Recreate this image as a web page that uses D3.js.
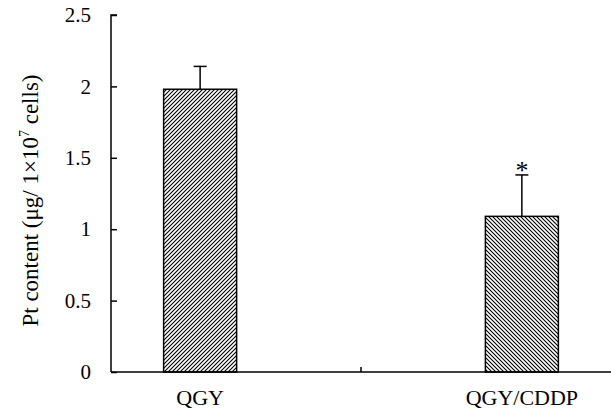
<!DOCTYPE html>
<html>
<head>
<meta charset="utf-8">
<script src="https://cdn.jsdelivr.net/npm/d3@7"></script>
<style>
  body { margin: 0; background: #fff; }
  svg { display: block; }
  text { font-family: "Liberation Serif", "Times New Roman", serif; fill: #000; }
</style>
</head>
<body>
<svg id="chart" width="611" height="414"></svg>
<script>
// datos
const categories = ["QGY", "QGY/CDDP"];
const values = [1.98, 1.09];
const errors = [0.16, 0.29];
const significant = [false, true];
const yTicks = [0, 0.5, 1, 1.5, 2, 2.5];
const hatchDir = ["up", "down"];

const svg = d3.select("#chart");
const mLeft = 111, mRight = 611, mTop = 15, mBottom = 372;

const x = d3.scalePoint().domain(categories).range([mLeft, mRight]).padding(0.277);
const y = d3.scaleLinear().domain([0, 2.5]).range([mBottom, mTop]);
const barWidth = 73;

// patrones de rayado
const defs = svg.append("defs");
const mk = (id, d) => defs.append("pattern")
    .attr("id", id).attr("patternUnits", "userSpaceOnUse")
    .attr("width", 4).attr("height", 4)
  .append("path").attr("d", d)
    .attr("stroke", "#000").attr("stroke-width", 1.1);
mk("hatch-up", "M-1,1 L1,-1 M0,4 L4,0 M3,5 L5,3");
mk("hatch-down", "M-1,3 L1,5 M0,0 L4,4 M3,-1 L5,1");

// barras
svg.selectAll(".bar").data(categories).join("rect")
  .attr("class", "bar")
  .attr("x", d => x(d) - barWidth / 2)
  .attr("y", (d, i) => y(values[i]))
  .attr("width", barWidth)
  .attr("height", (d, i) => y(0) - y(values[i]))
  .attr("fill", (d, i) => `url(#hatch-${hatchDir[i]})`)
  .attr("stroke", "#000").attr("stroke-width", 1.5);

// barras de error
const eb = svg.selectAll(".err").data(categories).join("g").attr("class", "err");
eb.append("line")
  .attr("x1", d => x(d)).attr("x2", d => x(d))
  .attr("y1", (d, i) => y(values[i])).attr("y2", (d, i) => y(values[i] + errors[i]))
  .attr("stroke", "#000").attr("stroke-width", 1.5);
eb.append("line")
  .attr("x1", d => x(d) - 6.5).attr("x2", d => x(d) + 6.5)
  .attr("y1", (d, i) => y(values[i] + errors[i])).attr("y2", (d, i) => y(values[i] + errors[i]))
  .attr("stroke", "#000").attr("stroke-width", 1.5);
eb.filter((d, i) => significant[i]).append("text")
  .attr("x", d => x(d))
  .attr("y", d => y(values[categories.indexOf(d)] + errors[categories.indexOf(d)]) + 4)
  .attr("text-anchor", "middle").style("font-size", "26px").text("*");

// eje y
const yAxis = svg.append("g").attr("transform", `translate(${mLeft},0)`)
  .call(d3.axisRight(y).tickValues(yTicks).tickSize(6).tickFormat(d3.format("")));
yAxis.select(".domain").attr("d", `M6,${mTop}H0V${mBottom}`).attr("stroke-width", 1.5);
yAxis.selectAll(".tick line").attr("stroke-width", 1.5);
yAxis.selectAll(".tick text")
  .attr("x", -20).attr("text-anchor", "end")
  .style("font-size", "21px").style("font-family", "Liberation Serif");

// eje x
const midTick = (x(categories[0]) + x(categories[1])) / 2;
svg.append("line").attr("x1", mLeft).attr("x2", mRight).attr("y1", mBottom).attr("y2", mBottom)
  .attr("stroke", "#000").attr("stroke-width", 1.5);
svg.append("line").attr("x1", midTick).attr("x2", midTick).attr("y1", mBottom).attr("y2", mBottom - 5)
  .attr("stroke", "#000").attr("stroke-width", 1.5);
svg.selectAll(".cat").data(categories).join("text")
  .attr("class", "cat")
  .attr("x", d => x(d)).attr("y", 405)
  .attr("text-anchor", "middle").style("font-size", "22px").text(d => d);

// titulo del eje y
const yl = svg.append("text")
  .attr("transform", `translate(38,${(73 + 328) / 2}) rotate(-90)`)
  .attr("text-anchor", "middle").style("font-size", "23px");
yl.append("tspan").text("Pt content (μg/ 1×10");
yl.append("tspan").attr("dy", -9).style("font-size", "14px").text("7");
yl.append("tspan").attr("dy", 9).text(" cells)");
</script>
</body>
</html>
